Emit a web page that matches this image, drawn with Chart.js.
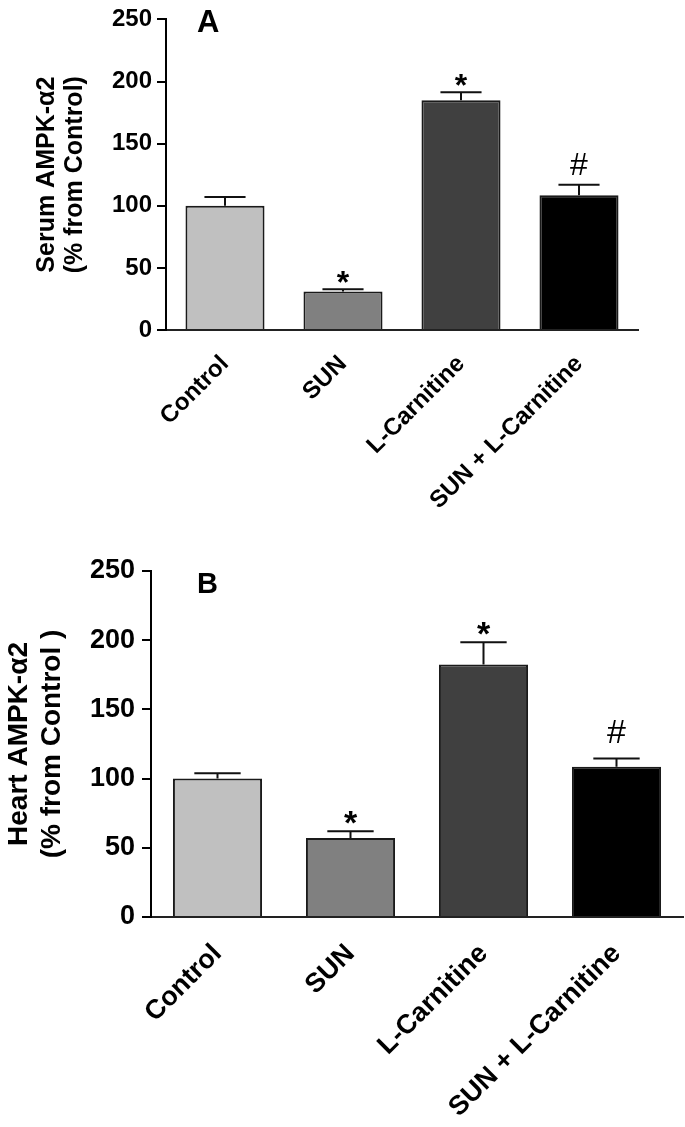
<!DOCTYPE html>
<html lang="en">

<head>
  <meta charset="UTF-8">
  <title>AMPK-α2</title>
  <script src="https://cdn.jsdelivr.net/npm/chart.js"></script>
  <style>
    body { margin: 0; background: #fff; }
    canvas { position: absolute; left: 0; }
    #serumChart { top: 0; }
    #heartChart { top: 545px; }
  </style>
</head>

<body>
  <canvas id="serumChart" width="685" height="545"></canvas>
  <canvas id="heartChart" width="685" height="582"></canvas>

  <script>
    const categories = ['Control', 'SUN', 'L-Carnitine', 'SUN + L-Carnitine'];
    const yTicks = [0, 50, 100, 150, 200, 250];

    // Panel A: serum
    const serumValues = [100, 31, 185, 108.5];
    const serumErrors = [7, 1.7, 6.3, 8.5];
    const serumMarks = ['', '*', '*', '#'];

    // Panel B: heart
    const heartValues = [100, 57, 182.5, 108.5];
    const heartErrors = [3.8, 5, 16, 6];
    const heartMarks = ['', '*', '*', '#'];

    const barColors = ['#c0c0c0', '#808080', '#404040', '#000000'];
    const FONT = '"Liberation Sans", Arial, Helvetica, sans-serif';

    // error bars, significance marks and the panel letter
    const errorBars = {
      id: 'errorBars',
      afterDatasetsDraw(chart, args, opts) {
        const ctx = chart.ctx;
        const y = chart.scales.y;
        const meta = chart.getDatasetMeta(0);
        ctx.save();
        ctx.strokeStyle = '#111';
        ctx.lineWidth = 2;
        meta.data.forEach((bar, i) => {
          const v = opts.values[i];
          const top = y.getPixelForValue(v + opts.errors[i]);
          const half = bar.width * 0.26;
          ctx.beginPath();
          ctx.moveTo(bar.x, y.getPixelForValue(v));
          ctx.lineTo(bar.x, top);
          ctx.moveTo(bar.x - half, top);
          ctx.lineTo(bar.x + half, top);
          ctx.stroke();

          const mark = opts.marks[i];
          if (mark) {
            ctx.font = (mark === '*' ? 'bold ' : '') + opts.markSize + 'px ' + FONT;
            ctx.fillStyle = '#000';
            ctx.textAlign = 'center';
            ctx.textBaseline = 'alphabetic';
            const m = ctx.measureText(mark);
            const gap = opts.gaps[mark];
            ctx.fillText(mark, bar.x, top - gap - m.actualBoundingBoxDescent);
          }
        });
        ctx.font = 'bold ' + opts.letterSize + 'px ' + FONT;
        ctx.fillStyle = '#000';
        ctx.textAlign = 'left';
        ctx.textBaseline = 'alphabetic';
        ctx.fillText(opts.letter, opts.letterX, opts.letterY);
        ctx.restore();
      }
    };

    function makePanel(id, o) {
      new Chart(document.getElementById(id), {
        type: 'bar',
        data: {
          labels: categories,
          datasets: [{
            data: o.values,
            backgroundColor: barColors,
            borderColor: '#1a1a1a',
            borderWidth: 2,
            barPercentage: 0.67,
            categoryPercentage: 1
          }]
        },
        options: {
          responsive: false,
          animation: false,
          layout: { padding: o.padding },
          plugins: {
            legend: { display: false },
            tooltip: { enabled: false },
            errorBars: {
              values: o.values, errors: o.errors, marks: o.marks,
              markSize: o.markSize, gaps: o.gaps,
              letter: o.letter, letterX: 197, letterY: o.letterY, letterSize: o.letterSize
            }
          },
          scales: {
            x: {
              grid: { display: false },
              border: { color: '#222', width: 2 },
              ticks: {
                color: '#000',
                font: { family: FONT, size: o.xFont, weight: 'bold' },
                minRotation: 45, maxRotation: 45,
                autoSkip: false,
                padding: o.xPad
              },
              afterFit: s => { s.height = o.xHeight; }
            },
            y: {
              min: 0, max: 250,
              afterBuildTicks: s => { s.ticks = yTicks.map(v => ({ value: v })); },
              grid: { drawOnChartArea: false, color: '#000', lineWidth: 2, tickLength: 9 },
              border: { color: '#000', width: 2 },
              ticks: {
                color: '#000',
                font: { family: FONT, size: o.yFont, weight: 'bold' },
                padding: o.yPad
              },
              title: {
                display: true,
                text: o.title,
                color: '#000',
                font: { family: FONT, size: o.titleFont, weight: 'bold', lineHeight: o.titleLine },
                padding: { top: o.titlePad, bottom: 0 }
              },
              afterFit: s => { s.width = o.yWidth; }
            }
          }
        },
        plugins: [errorBars]
      });
    }

    makePanel('serumChart', {
      values: serumValues, errors: serumErrors, marks: serumMarks,
      title: ['Serum AMPK-α2', '(% from Control)'],
      padding: { left: 0, right: 47, top: 15, bottom: 0 },
      yWidth: 166, xHeight: 215,
      xFont: 24, yFont: 24, yPad: 5, xPad: 12,
      titleFont: 25, titleLine: 1.12, titlePad: 33,
      markSize: 32, gaps: { '*': 6, '#': 10 },
      letter: 'A', letterY: 32, letterSize: 31
    });

    makePanel('heartChart', {
      values: heartValues, errors: heartErrors, marks: heartMarks,
      title: ['Heart AMPK-α2', '(% from Control )'],
      padding: { left: 0, right: 2, top: 26, bottom: 0 },
      yWidth: 151, xHeight: 210,
      xFont: 27, yFont: 27, yPad: 7, xPad: 13,
      titleFont: 28, titleLine: 1.18, titlePad: 3,
      markSize: 34, gaps: { '*': 7, '#': 16 },
      letter: 'B', letterY: 593 - 545, letterSize: 29
    });
  </script>
</body>

</html>
